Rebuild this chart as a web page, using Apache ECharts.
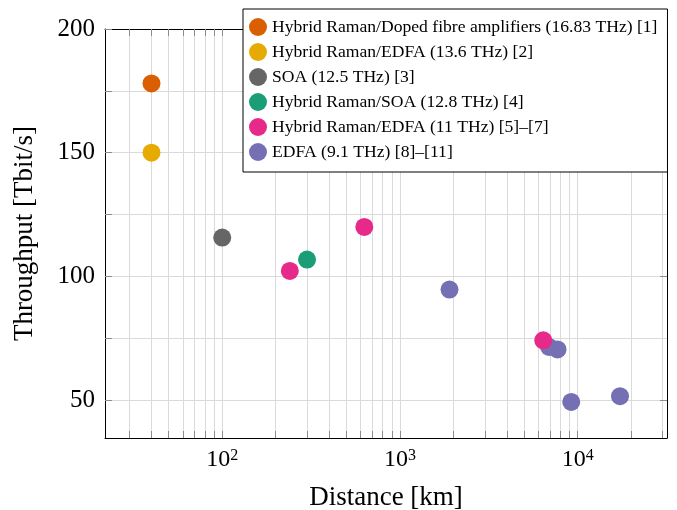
<!DOCTYPE html>
<html>
<head>
<meta charset="utf-8">
<script src="https://cdn.jsdelivr.net/npm/echarts@6.0.0/dist/echarts.min.js"></script>
<style>html,body{margin:0;padding:0;background:#fff}#c{width:677px;height:510px}</style>
</head>
<body>
<div id="c"></div>
<script>
// ---- data ----
const seriesNames = [
  'Hybrid Raman/Doped fibre amplifiers (16.83 THz) [1]',
  'Hybrid Raman/EDFA (13.6 THz) [2]',
  'SOA (12.5 THz) [3]',
  'Hybrid Raman/SOA (12.8 THz) [4]',
  'Hybrid Raman/EDFA (11 THz) [5]\u2013[7]',
  'EDFA (9.1 THz) [8]\u2013[11]'
];
const seriesColors = ['#d95f02', '#e6ab02', '#666666', '#1b9e77', '#e7298a', '#7570b3'];
const dopedData = [[40, 178]];
const ramanEdfa1Data = [[40, 150]];
const soaData = [[100, 115.7]];
const ramanSoaData = [[300, 106.8]];
const ramanEdfa2Data = [[240, 102.2], [630, 120], [6400, 74.2]];
const edfaData = [[1900, 94.7], [6900, 71.5], [7700, 70.5], [9200, 49.3], [17300, 51.6]];
const xTickValues = [30,40,50,60,70,80,90,100,200,300,400,500,600,700,800,900,
  1000,2000,3000,4000,5000,6000,7000,8000,9000,10000,20000,30000];
const xLabelValues = [100, 1000, 10000];
const yTickValues = [50, 75, 100, 125, 150, 175, 200];
const yLabelValues = [50, 100, 150, 200];
const xMin = 21.9, xMax = 31800, yMin = 34.7, yMax = 200;

const allData = [dopedData, ramanEdfa1Data, soaData, ramanSoaData, ramanEdfa2Data, edfaData];
const FONT = 'Liberation Serif';
const tickColor = '#8c8c8c';
const gridColor = '#dadada';

const chart = echarts.init(document.getElementById('c'));
chart.setOption({
  animation: false,
  backgroundColor: '#fff',
  textStyle: { fontFamily: FONT },
  grid: { left: 105, right: 10, top: 29, bottom: 72, outerBoundsMode: 'none', containLabel: false },
  legend: {
    orient: 'vertical', left: 243, top: 9,
    icon: 'circle', itemWidth: 18, itemHeight: 18, itemGap: 7,
    borderColor: '#000', borderWidth: 1, borderRadius: 0, backgroundColor: '#fff',
    padding: [9, 10, 11, 6],
    textStyle: { fontFamily: FONT, fontSize: 17.6, color: '#000' },
    data: seriesNames
  },
  xAxis: [{
    type: 'log', logBase: 10, min: xMin, max: xMax, position: 'bottom',
    name: 'Distance [km]', nameLocation: 'middle', nameGap: 46,
    nameTextStyle: { fontFamily: FONT, fontSize: 27, color: '#000' },
    axisLine: { show: true, lineStyle: { color: '#000', width: 1 } },
    axisTick: { show: true, inside: true, length: 7, customValues: xTickValues, lineStyle: { color: tickColor } },
    axisLabel: {
      customValues: xLabelValues, margin: 10, color: '#000',
      formatter: v => '{b|10}{s|' + Math.round(Math.log10(v)) + '}',
      rich: {
        b: { fontFamily: FONT, fontSize: 24, color: '#000' },
        s: { fontFamily: FONT, fontSize: 16, color: '#000', verticalAlign: 'top' }
      }
    },
    splitLine: { show: true, lineStyle: { color: gridColor, width: 1 } },
    minorTick: { show: false }, minorSplitLine: { show: false }
  }, {
    type: 'log', logBase: 10, min: xMin, max: xMax, position: 'top',
    axisLine: { show: true, lineStyle: { color: '#000', width: 1 } },
    axisTick: { show: true, inside: true, length: 7, customValues: xTickValues, lineStyle: { color: tickColor } },
    axisLabel: { show: false },
    splitLine: { show: false }
  }],
  yAxis: [{
    type: 'value', min: yMin, max: yMax, position: 'left',
    name: 'Throughput [Tbit/s]', nameLocation: 'middle', nameGap: 67,
    nameTextStyle: { fontFamily: FONT, fontSize: 27, color: '#000' },
    axisLine: { show: true, lineStyle: { color: '#000', width: 1 } },
    axisTick: { show: true, inside: true, length: 7, customValues: yTickValues, lineStyle: { color: tickColor } },
    axisLabel: { customValues: yLabelValues, margin: 10, fontFamily: FONT, fontSize: 25, color: '#000' },
    splitLine: { show: true, lineStyle: { color: gridColor, width: 1 } }
  }, {
    type: 'value', min: yMin, max: yMax, position: 'right',
    axisLine: { show: true, lineStyle: { color: '#000', width: 1 } },
    axisTick: { show: true, inside: true, length: 7, customValues: yLabelValues, lineStyle: { color: tickColor } },
    axisLabel: { show: false },
    splitLine: { show: false }
  }],
  series: seriesNames.map((name, i) => ({
    name: name,
    type: 'scatter',
    xAxisIndex: 0, yAxisIndex: 0,
    symbol: 'circle', symbolSize: 18,
    z: i === 4 ? 4 : 3,
    itemStyle: { color: seriesColors[i], opacity: 1 },
    emphasis: { disabled: true },
    data: allData[i]
  }))
});
</script>
</body>
</html>
